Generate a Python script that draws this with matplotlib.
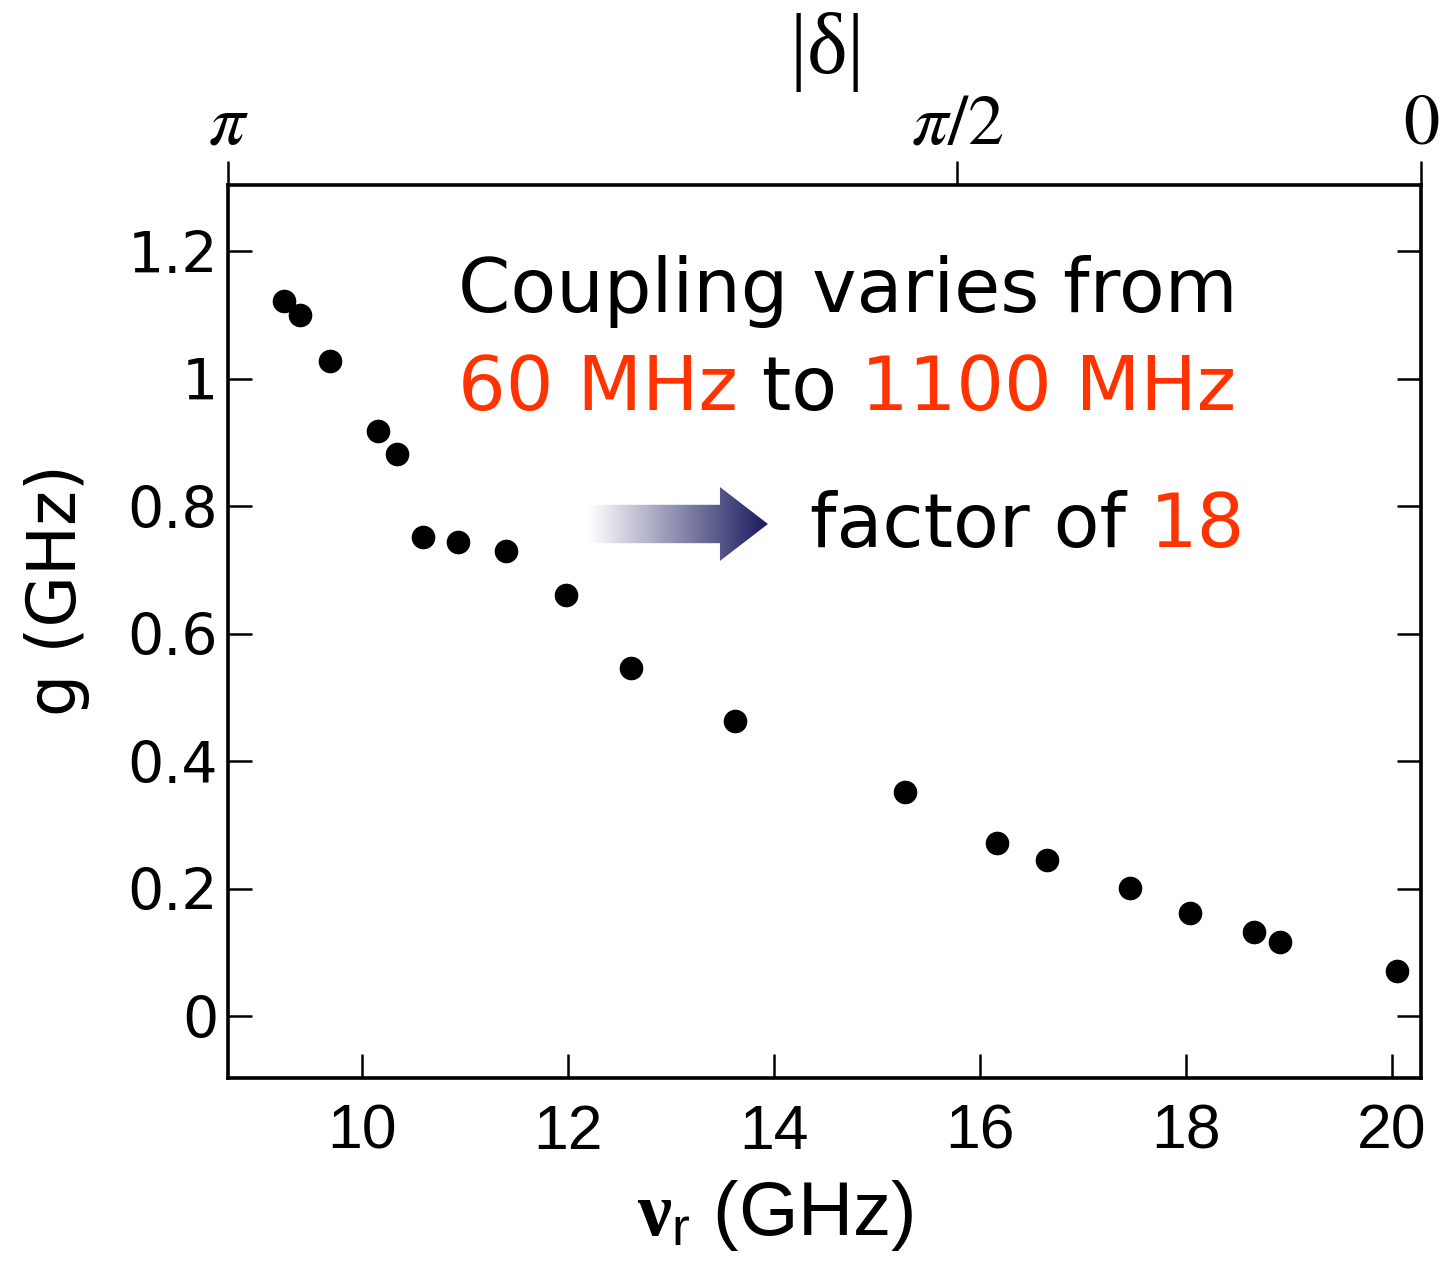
import numpy as np
import matplotlib
matplotlib.use("Agg")
import matplotlib.pyplot as plt
from matplotlib.patches import Polygon
from matplotlib.colors import LinearSegmentedColormap

# ---------------------------------------------------------------------------
# Data
# ---------------------------------------------------------------------------
nu_r = [9.24, 9.40, 9.69, 10.16, 10.34, 10.59, 10.93, 11.40, 11.98, 12.61,
        13.62, 15.27, 16.16, 16.65, 17.46, 18.04, 18.66, 18.91, 20.05]
g = [1.122, 1.100, 1.027, 0.917, 0.881, 0.752, 0.744, 0.730, 0.661, 0.546,
     0.463, 0.352, 0.272, 0.245, 0.201, 0.162, 0.132, 0.116, 0.071]

x_ticks = [10, 12, 14, 16, 18, 20]
y_ticks = [0, 0.2, 0.4, 0.6, 0.8, 1.0, 1.2]
y_tick_labels = ["0", "0.2", "0.4", "0.6", "0.8", "1", "1.2"]

# top axis: |delta| at given resonator frequencies
delta_pos = [8.70, 15.78, 20.28]
delta_labels = [r"$\pi$", r"$\pi/2$", r"$0$"]

XLIM = (8.70, 20.28)
YLIM = (-0.097, 1.3035)

RED = "#ff3300"
NAVY = (0.10, 0.10, 0.37)

# custom mathtext: Times-like greek, Helvetica-like subscript
plt.rcParams["mathtext.rm"] = "Liberation Serif"
plt.rcParams["mathtext.it"] = "Liberation Serif:italic"
plt.rcParams["mathtext.bf"] = "Liberation Serif:bold"
plt.rcParams["mathtext.sf"] = "Liberation Sans"

# ---------------------------------------------------------------------------
# Figure
# ---------------------------------------------------------------------------
fig = plt.figure(figsize=(14.41, 12.63), dpi=100)
ax = fig.add_axes([0.1582, 0.1465, 0.8279, 0.7070])

ax.plot(nu_r, g, "o", color="black", markersize=16, zorder=3)

ax.set_xlim(*XLIM)
ax.set_ylim(*YLIM)

for sp in ax.spines.values():
    sp.set_linewidth(2.6)

ax.set_xticks(x_ticks)
ax.set_yticks(y_ticks)
ax.set_yticklabels(y_tick_labels)
ax.tick_params(axis="both", direction="in", length=17, width=1.8)
ax.tick_params(axis="y", right=True, pad=7, labelsize=41)
ax.tick_params(axis="x", top=False, pad=18, labelsize=45,
               labelfontfamily="Liberation Sans")

ax.set_xlabel("$\\mathbf{\u03bd}_\\mathsf{r}$ (GHz)", fontsize=55,
              family="Liberation Sans", math_fontfamily="custom")
ax.xaxis.set_label_coords(0.4585, -0.112)
ax.set_ylabel("g (GHz)", fontsize=48)
ax.yaxis.set_label_coords(-0.1157, 0.546)

# top axis
ax2 = ax.twiny()
ax2.set_xlim(*XLIM)
ax2.set_xticks(delta_pos)
ax2.set_xticklabels(delta_labels)
ax2.tick_params(axis="x", direction="out", length=17, width=1.8,
                labelsize=52, pad=2)
for lbl in ax2.get_xticklabels():
    lbl.set_math_fontfamily("stix")
ax2.set_xlabel("$|\\mathrm{\u03b4}|$", fontsize=62, math_fontfamily="custom",
               labelpad=12)

# ---------------------------------------------------------------------------
# Annotation text (multi-coloured)
# ---------------------------------------------------------------------------
fs = 54
ax.text(0.1928, 0.8578, "Coupling varies from", transform=ax.transAxes,
        fontsize=fs, color="black", va="baseline", ha="left")

t = ax.text(0.1928, 0.748, "60 MHz", transform=ax.transAxes,
            fontsize=fs, color=RED, va="baseline", ha="left")
t = ax.annotate(" to ", xycoords=t, xy=(1, 0), va="bottom", ha="left",
                fontsize=fs, color="black")
t = ax.annotate("1100 MHz", xycoords=t, xy=(1, 0), va="bottom", ha="left",
                fontsize=fs, color=RED)

t = ax.text(0.4878, 0.5946, "factor of ", transform=ax.transAxes,
            fontsize=fs, color="black", va="baseline", ha="left")
ax.annotate("18", xycoords=t, xy=(1, 0), va="bottom", ha="left",
            fontsize=fs, color=RED)

# ---------------------------------------------------------------------------
# Gradient arrow (axes fraction coordinates)
# ---------------------------------------------------------------------------
x0, xb, xt = 0.3030, 0.4124, 0.4526
yc, hs, hh = 0.6204, 0.0215, 0.0414
arrow = Polygon([(x0, yc - hs), (xb, yc - hs), (xb, yc - hh), (xt, yc),
                 (xb, yc + hh), (xb, yc + hs), (x0, yc + hs)],
                closed=True, transform=ax.transAxes, facecolor="none",
                edgecolor="none")
ax.add_patch(arrow)
cmap = LinearSegmentedColormap.from_list("fade", [(1, 1, 1), NAVY])
grad = np.linspace(0, 1, 256).reshape(1, -1)
im = ax.imshow(grad, cmap=cmap, aspect="auto", extent=(x0, xt, yc - hh, yc + hh),
               transform=ax.transAxes, zorder=2, interpolation="bilinear")
im.set_clip_path(arrow)
ax.set_xlim(*XLIM)
ax.set_ylim(*YLIM)

fig.savefig("out.png", dpi=100)
